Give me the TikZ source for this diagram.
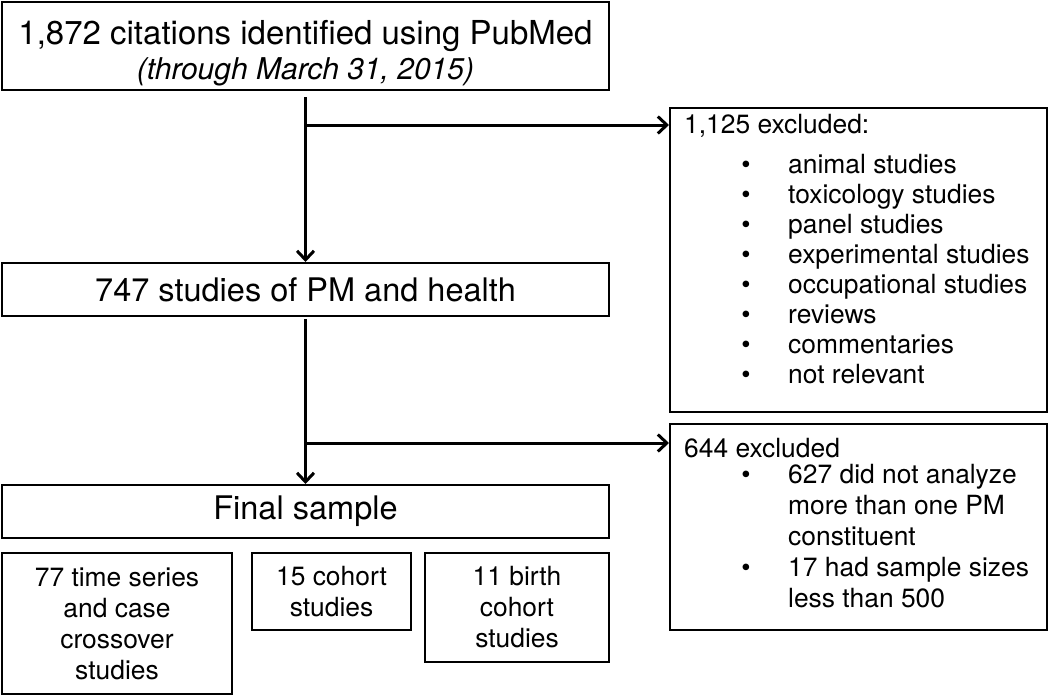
\documentclass[tikz,border=0pt]{standalone}
\usepackage{fontspec}
\setmainfont{TeX Gyre Heros}
\usetikzlibrary{arrows.meta}

\begin{document}
\begin{tikzpicture}[x=1pt, y=-1pt,
  box/.style={draw, line width=2pt, inner sep=0pt, align=center},
  arr/.style={line width=3pt, -{Straight Barb[length=9pt, width=17pt, line width=3pt]}},
  small/.style={font=\fontsize{26.4}{31}\selectfont},
  plain/.style={anchor=base, inner sep=0pt}]

\useasboundingbox (0,0) rectangle (1050,696);

%% main column
\node[box, minimum width=607pt, minimum height=88pt] (top) at (305.5,46) {};
\node[plain, font=\fontsize{33}{37}\selectfont] (top-l1) at (305.5,44)
  {1,872 citations identified using PubMed};
\node[plain, font=\fontsize{30}{37}\selectfont\itshape] (top-l2) at (305.5,79)
  {(through March 31, 2015)};
\node[box, minimum width=607pt, minimum height=53pt,
  font=\fontsize{32.5}{37}\selectfont] (mid) at (305.5,289.5)
  {747 studies of PM and health};
\node[box, minimum width=607pt, minimum height=53pt,
  font=\fontsize{32.5}{37}\selectfont] (final) at (305.5,511.5)
  {Final sample};

%% final sample split
\node[box, small, minimum width=230pt, minimum height=141pt] (ts) at (117,623.5)
  {77 time series\\and case\\crossover\\studies};
\node[box, small, minimum width=159pt, minimum height=77pt] (coh) at (331.5,591.5)
  {15 cohort\\studies};
\node[box, small, minimum width=184pt, minimum height=109pt] (birth) at (517,607.5)
  {11 birth\\cohort\\studies};

%% exclusion boxes
\node[box, minimum width=377pt, minimum height=304pt] (ex1) at (858.5,260) {};
\node[box, minimum width=377pt, minimum height=206pt] (ex2) at (858.5,527) {};

\node[small, anchor=base west, inner sep=0pt] (ex1-head) at (684,133) {1,125 excluded:};
\foreach \t [count=\i] in {animal studies, toxicology studies, panel studies,
    experimental studies, occupational studies, reviews, commentaries, not relevant}
  {
    \node[small, plain] (ex1-b\i) at (746,143+30*\i) {\textbullet};
    \node[small, anchor=base west, inner sep=0pt] (ex1-t\i) at (788,143+30*\i) {\t};
  }

\node[small, anchor=base west, inner sep=0pt] (ex2-head) at (684,457) {644 excluded};
\foreach \y/\t [count=\i] in {483/627 did not analyze, 514/more than one PM,
    545/constituent, 576/17 had sample sizes, 607/less than 500}
  {
    \node[small, anchor=base west, inner sep=0pt] (ex2-t\i) at (788,\y) {\t};
  }
\node[small, plain] (ex2-b1) at (746,483) {\textbullet};
\node[small, plain] (ex2-b2) at (746,576) {\textbullet};

%% connectors
\coordinate (j1) at (305.5,125);
\coordinate (j2) at (305.5,443);
\draw[arr, shorten <=6pt] (top.south) -- (mid.north);
\draw[arr] (j1) -- (j1 -| ex1.west);
\draw[arr, shorten <=2pt] (mid.south) -- (final.north);
\draw[arr] (j2) -- (j2 -| ex2.west);

\end{tikzpicture}
\end{document}
